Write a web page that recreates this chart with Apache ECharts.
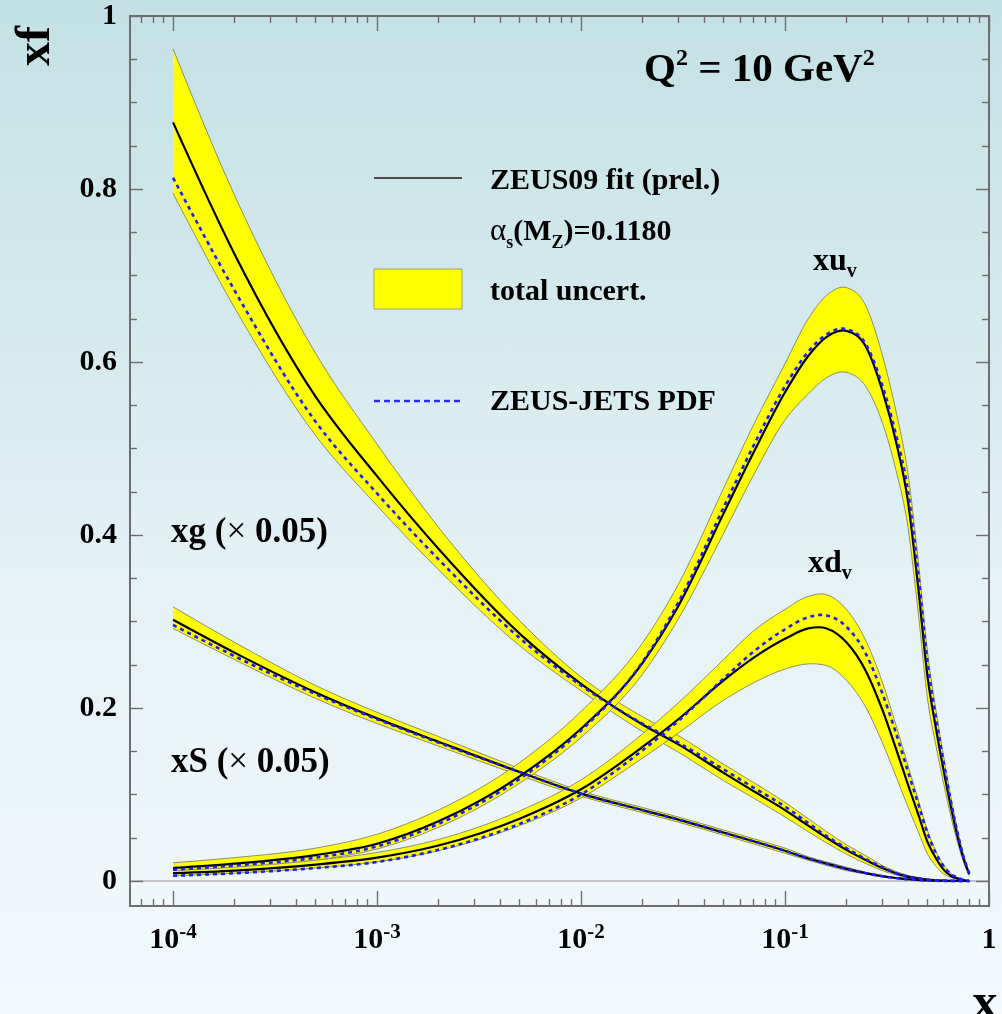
<!DOCTYPE html>
<html><head><meta charset="utf-8">
<script src="https://cdn.jsdelivr.net/npm/echarts@6/dist/echarts.min.js"></script>
<style>
html,body{margin:0;padding:0;}
#c{width:1002px;height:1014px;background:linear-gradient(to bottom,#c3e1e5 0%,#d3e9ed 30%,#e6f2f6 60%,#f3f9fc 100%);}
</style></head><body><div id="c"></div>
<script>
// ---- data (x in linear units) ----
const xValues = [1e-4, 2e-4, 5e-4, 1e-3, 2e-3, 5e-3, 1e-2, 2e-2, 3e-2, 5e-2, 7e-2, 0.1, 0.13, 0.16, 0.2, 0.25, 0.3, 0.35, 0.4, 0.45, 0.5, 0.55, 0.6, 0.65, 0.7, 0.75, 0.8];

const xuvFit  = [0.015, 0.020, 0.030, 0.043, 0.069, 0.121, 0.176, 0.252, 0.318, 0.425, 0.495, 0.565, 0.607, 0.629, 0.636, 0.617, 0.567, 0.508, 0.440, 0.339, 0.236, 0.176, 0.127, 0.086, 0.052, 0.026, 0.008];
const xuvUp   = [0.021, 0.027, 0.038, 0.054, 0.082, 0.137, 0.196, 0.275, 0.343, 0.454, 0.527, 0.598, 0.650, 0.677, 0.686, 0.664, 0.608, 0.543, 0.472, 0.370, 0.264, 0.197, 0.143, 0.098, 0.060, 0.031, 0.010];
const xuvLow  = [0.011, 0.015, 0.024, 0.037, 0.062, 0.113, 0.166, 0.239, 0.303, 0.402, 0.469, 0.533, 0.563, 0.582, 0.588, 0.571, 0.530, 0.475, 0.410, 0.310, 0.210, 0.156, 0.112, 0.075, 0.045, 0.022, 0.006];
const xuvJets = [0.013, 0.018, 0.027, 0.040, 0.066, 0.118, 0.174, 0.253, 0.322, 0.432, 0.503, 0.572, 0.612, 0.632, 0.638, 0.620, 0.573, 0.516, 0.452, 0.355, 0.252, 0.188, 0.136, 0.092, 0.056, 0.028, 0.009];

const xdvFit  = [0.009, 0.012, 0.019, 0.027, 0.041, 0.072, 0.106, 0.155, 0.187, 0.232, 0.258, 0.280, 0.292, 0.292, 0.276, 0.242, 0.198, 0.153, 0.112, 0.077, 0.045, 0.026, 0.013, 0.006, 0.003, 0.001, 0.0];
const xdvUp   = [0.012, 0.016, 0.024, 0.033, 0.048, 0.081, 0.117, 0.170, 0.206, 0.256, 0.289, 0.314, 0.329, 0.331, 0.314, 0.277, 0.230, 0.180, 0.134, 0.094, 0.058, 0.034, 0.018, 0.009, 0.004, 0.0015, 0.0003];
const xdvLow  = [0.006, 0.009, 0.015, 0.022, 0.035, 0.064, 0.096, 0.142, 0.171, 0.209, 0.229, 0.245, 0.251, 0.249, 0.232, 0.200, 0.160, 0.121, 0.086, 0.057, 0.031, 0.017, 0.008, 0.004, 0.002, 0.0005, 0.0];
const xdvJets = [0.006, 0.009, 0.015, 0.022, 0.036, 0.066, 0.100, 0.151, 0.185, 0.234, 0.265, 0.291, 0.305, 0.307, 0.294, 0.262, 0.217, 0.171, 0.127, 0.089, 0.055, 0.032, 0.017, 0.008, 0.004, 0.001, 0.0];

const xgFit   = [0.877, 0.725, 0.560, 0.468, 0.384, 0.286, 0.228, 0.181, 0.158, 0.125, 0.104, 0.082, 0.064, 0.050, 0.036, 0.024, 0.015, 0.009, 0.005, 0.003, 0.0015, 0.0008, 0.0004, 0.0002, 0.0001, 0.0, 0.0];
const xgUp    = [0.962, 0.793, 0.610, 0.505, 0.409, 0.301, 0.236, 0.190, 0.168, 0.135, 0.114, 0.091, 0.072, 0.057, 0.042, 0.029, 0.018, 0.011, 0.0065, 0.004, 0.002, 0.001, 0.0005, 0.0002, 0.0001, 0.0, 0.0];
const xgLow   = [0.795, 0.663, 0.515, 0.434, 0.360, 0.272, 0.220, 0.173, 0.149, 0.116, 0.096, 0.074, 0.057, 0.044, 0.031, 0.020, 0.012, 0.007, 0.0035, 0.002, 0.001, 0.0006, 0.0003, 0.0001, 0.0, 0.0, 0.0];
const xgJets  = [0.813, 0.683, 0.531, 0.448, 0.372, 0.281, 0.226, 0.182, 0.160, 0.129, 0.108, 0.086, 0.067, 0.052, 0.038, 0.025, 0.016, 0.009, 0.005, 0.003, 0.0015, 0.0008, 0.0004, 0.0002, 0.0001, 0.0, 0.0];

const xSFit   = [0.302, 0.264, 0.218, 0.188, 0.161, 0.126, 0.101, 0.082, 0.071, 0.056, 0.046, 0.035, 0.026, 0.020, 0.014, 0.009, 0.0055, 0.0035, 0.002, 0.0012, 0.0006, 0.0003, 0.0001, 0.0, 0.0, 0.0, 0.0];
const xSUp    = [0.317, 0.276, 0.226, 0.195, 0.167, 0.130, 0.104, 0.085, 0.074, 0.059, 0.049, 0.038, 0.028, 0.022, 0.016, 0.010, 0.0065, 0.004, 0.0025, 0.0015, 0.0008, 0.0004, 0.0002, 0.0, 0.0, 0.0, 0.0];
const xSLow   = [0.292, 0.256, 0.211, 0.182, 0.156, 0.122, 0.098, 0.079, 0.068, 0.053, 0.043, 0.032, 0.024, 0.018, 0.012, 0.008, 0.0045, 0.003, 0.0015, 0.0009, 0.0004, 0.0002, 0.0001, 0.0, 0.0, 0.0, 0.0];
const xSJets  = [0.296, 0.260, 0.216, 0.187, 0.160, 0.126, 0.101, 0.082, 0.071, 0.056, 0.046, 0.035, 0.026, 0.020, 0.014, 0.009, 0.0055, 0.0035, 0.002, 0.0012, 0.0006, 0.0003, 0.0001, 0.0, 0.0, 0.0, 0.0];

const xDecades = [-4, -3, -2, -1, 0];          // tick exponents (10^n)
const yMajorTicks = [0, 0.2, 0.4, 0.6, 0.8, 1];
const yMinorTicks = [0.05, 0.1, 0.15, 0.25, 0.3, 0.35, 0.45, 0.5, 0.55, 0.65, 0.7, 0.75, 0.85, 0.9, 0.95];
const BASELINE = 0;

// ---- build ----
const FONT = 'Liberation Serif';
const AX = '#6e6e6e';
const X_MIN = -4.211, X_MAX = 0, Y_MIN = -0.0289, Y_MAX = 1;

const xMinor = [];
for (let d = -5; d <= -1; d++) for (let k = 2; k <= 9; k++) {
  const v = d + Math.log10(k);
  if (v >= X_MIN) xMinor.push(v);
}

// smooth cubic Hermite curve through pixel points -> bezier segments
function segments(P) {
  const n = P.length, h = [], s = [], t = new Array(n);
  for (let i = 0; i < n - 1; i++) { h[i] = P[i + 1][0] - P[i][0]; s[i] = (P[i + 1][1] - P[i][1]) / h[i]; }
  for (let i = 1; i < n - 1; i++) {
    const s0 = s[i - 1], s1 = s[i], p = (s0 * h[i] + s1 * h[i - 1]) / (h[i - 1] + h[i]);
    if (s0 * s1 > 0) t[i] = Math.sign(p) * Math.min(Math.abs(p), 3 * Math.abs(s0), 3 * Math.abs(s1));
    else t[i] = p;
  }
  t[0] = (3 * s[0] - t[1]) / 2;
  t[n - 1] = (3 * s[n - 2] - t[n - 2]) / 2;
  const seg = [];
  for (let i = 0; i < n - 1; i++) {
    const d = h[i] / 3;
    seg.push([P[i], [P[i][0] + d, P[i][1] + t[i] * d], [P[i + 1][0] - d, P[i + 1][1] - t[i + 1] * d], P[i + 1]]);
  }
  return seg;
}
const f = v => v.toFixed(2);
const pt = p => f(p[0]) + ',' + f(p[1]);
function linePath(P) {
  let d = 'M' + pt(P[0]);
  segments(P).forEach(s => { d += 'C' + pt(s[1]) + ' ' + pt(s[2]) + ' ' + pt(s[3]); });
  return d;
}
function bandPath(T, B) {
  let d = 'M' + pt(T[0]);
  segments(T).forEach(s => { d += 'C' + pt(s[1]) + ' ' + pt(s[2]) + ' ' + pt(s[3]); });
  d += 'L' + pt(B[B.length - 1]);
  const sb = segments(B);
  for (let i = sb.length - 1; i >= 0; i--) { const s = sb[i]; d += 'C' + pt(s[2]) + ' ' + pt(s[1]) + ' ' + pt(s[0]); }
  return d + 'Z';
}

function bandSeries(name, up, low) {
  return {type: 'custom', name: name + ' total uncert.', silent: true, z: 1, animation: false,
    data: xValues.map((x, i) => [Math.log10(x), low[i], up[i]]),
    encode: {x: 0, y: [1, 2]},
    renderItem: (params, api) => {
      if (params.dataIndexInside !== 0) return null;
      const n = params.dataInsideLength || xValues.length;
      const T = [], B = [];
      for (let i = 0; i < n; i++) {
        B.push(api.coord([api.value(0, i), api.value(1, i)]));
        T.push(api.coord([api.value(0, i), api.value(2, i)]));
      }
      return {type: 'group', children: [
        {type: 'path', shape: {pathData: bandPath(T, B)}, style: {fill: '#ffff00', stroke: 'none'}},
        {type: 'path', shape: {pathData: linePath(T)}, style: {fill: 'none', stroke: '#8c8c70', lineWidth: 1}},
        {type: 'path', shape: {pathData: linePath(B)}, style: {fill: 'none', stroke: '#8c8c70', lineWidth: 1}}
      ]};
    }};
}
function curveSeries(name, vals, style, z) {
  return {type: 'custom', name: name, silent: true, z: z, animation: false,
    data: xValues.map((x, i) => [Math.log10(x), vals[i]]),
    encode: {x: 0, y: 1},
    renderItem: (params, api) => {
      if (params.dataIndexInside !== 0) return null;
      const n = params.dataInsideLength || xValues.length;
      const P = [];
      for (let i = 0; i < n; i++) P.push(api.coord([api.value(0, i), api.value(1, i)]));
      return {type: 'path', shape: {pathData: linePath(P)}, style: Object.assign({fill: 'none'}, style)};
    }};
}
const FIT = {stroke: '#000', lineWidth: 2.2};
const JETS = {stroke: '#1c1cff', lineWidth: 2.6, lineDash: [4, 4]};
function pdf(name, fit, up, low, jets) {
  return [bandSeries(name, up, low), curveSeries(name + ' ZEUS09 fit', fit, FIT, 3), curveSeries(name + ' ZEUS-JETS', jets, JETS, 4)];
}

function xAx(pos, major, labels) {
  return {type: 'value', min: X_MIN, max: X_MAX, position: pos,
    axisLine: {show: major, onZero: false, lineStyle: {color: AX, width: 2}},
    axisTick: {show: true, inside: true, length: major ? 15 : 7, customValues: major ? xDecades : xMinor,
      lineStyle: {color: AX, width: 1.4}},
    axisLabel: labels ? {show: true, customValues: xDecades, margin: 16, color: '#000',
      formatter: v => v === 0 ? '{b|1}' : '{b|10}{s|' + v + '}',
      rich: {b: {fontFamily: FONT, fontWeight: 'bold', fontSize: 30, lineHeight: 36, color: '#000'},
             s: {fontFamily: FONT, fontWeight: 'bold', fontSize: 21, lineHeight: 21, verticalAlign: 'top', color: '#000'}}}
      : {show: false},
    splitLine: {show: false}};
}
function yAx(pos, major, labels) {
  return {type: 'value', min: Y_MIN, max: Y_MAX, position: pos,
    axisLine: {show: major, onZero: false, lineStyle: {color: AX, width: 2}},
    axisTick: {show: true, inside: true, length: major ? 13 : 7, customValues: major ? yMajorTicks : yMinorTicks,
      lineStyle: {color: AX, width: 1.4}},
    axisLabel: labels ? {show: true, customValues: yMajorTicks, margin: 13, color: '#000',
      fontFamily: FONT, fontWeight: 'bold', fontSize: 30,
      formatter: v => String(v)} : {show: false},
    splitLine: {show: false}};
}

function txt(x, y, text, rich, size) {
  return {type: 'text', x: x, y: y, z: 10, silent: true,
    style: {text: text, rich: rich || undefined, fill: '#000', fontFamily: FONT, fontWeight: 'bold', fontSize: size || 30,
      align: 'left', verticalAlign: 'middle'}};
}
const R = (size, extra) => Object.assign({fontFamily: FONT, fontWeight: 'bold', fontSize: size, fill: '#000', color: '#000'}, extra || {});

const chart = echarts.init(document.getElementById('c'), null, {renderer: 'canvas'});
chart.setOption({
  animation: false,
  grid: {left: 130, right: 13, top: 16, bottom: 108, containLabel: false},
  xAxis: [xAx('bottom', true, true), xAx('bottom', false, false), xAx('top', true, false), xAx('top', false, false)],
  yAxis: [yAx('left', true, true), yAx('left', false, false), yAx('right', true, false), yAx('right', false, false)],
  series: [
    {type: 'custom', name: 'baseline', silent: true, z: 0, data: [BASELINE],
      renderItem: (params, api) => {
        const cs = params.coordSys;
        const y = api.coord([X_MAX, api.value(0)])[1];
        return {type: 'line', shape: {x1: cs.x, y1: y, x2: cs.x + cs.width, y2: y}, style: {stroke: '#c4c4c4', lineWidth: 2}};
      }}
  ].concat(
    pdf('xg', xgFit, xgUp, xgLow, xgJets),
    pdf('xS', xSFit, xSUp, xSLow, xSJets),
    pdf('xuv', xuvFit, xuvUp, xuvLow, xuvJets),
    pdf('xdv', xdvFit, xdvUp, xdvLow, xdvJets)
  ),
  graphic: {elements: [
    // legend
    {type: 'line', z: 10, silent: true, shape: {x1: 374, y1: 178, x2: 462, y2: 178}, style: {stroke: '#4a4a4a', lineWidth: 2}},
    {type: 'rect', z: 10, silent: true, shape: {x: 374, y: 269, width: 88, height: 40}, style: {fill: '#ffff00', stroke: '#a0a070', lineWidth: 1}},
    {type: 'line', z: 10, silent: true, shape: {x1: 374, y1: 401, x2: 462, y2: 401}, style: {stroke: '#2a2aff', lineWidth: 2.5, lineDash: [6, 4]}},
    txt(490, 181, 'ZEUS09 fit (prel.)', null, 30),
    txt(490, 232, '{a|α}{s|s}{m|(M}{s|Z}{m|)=0.1180}', {a: R(31, {fontWeight: 'normal', lineHeight: 40}), m: R(30, {lineHeight: 40}), s: R(18, {lineHeight: 16, verticalAlign: 'bottom'})}),
    txt(490, 292, 'total uncert.', null, 30),
    txt(490, 402, 'ZEUS-JETS PDF', null, 30),
    // Q^2
    txt(644, 70, '{m|Q}{p|2}{m| = 10 GeV}{p|2}', {m: R(41, {lineHeight: 46}), p: R(24, {lineHeight: 24, verticalAlign: 'top'})}),
    // curve labels
    txt(813, 262, '{m|xu}{s|v}', {m: R(32, {lineHeight: 40}), s: R(20, {lineHeight: 16, verticalAlign: 'bottom'})}),
    txt(808, 564, '{m|xd}{s|v}', {m: R(32, {lineHeight: 40}), s: R(20, {lineHeight: 16, verticalAlign: 'bottom'})}),
    txt(171, 533, '{m|xg (}{x|×}{m| 0.05)}', {m: R(35), x: R(35, {fontWeight: 'normal'})}),
    txt(171, 763, '{m|xS (}{x|×}{m| 0.05)}', {m: R(35), x: R(35, {fontWeight: 'normal'})}),
    // axis titles
    {type: 'text', x: 37, y: 46, rotation: Math.PI / 2, z: 10, silent: true,
      style: {text: 'xf', fill: '#000', fontFamily: FONT, fontWeight: 'bold', fontSize: 48, align: 'center', verticalAlign: 'middle'}},
    {type: 'text', x: 985, y: 1005, z: 10, silent: true,
      style: {text: 'x', fill: '#000', fontFamily: FONT, fontWeight: 'bold', fontSize: 50, align: 'center', verticalAlign: 'middle'}}
  ]}
});
</script></body></html>
